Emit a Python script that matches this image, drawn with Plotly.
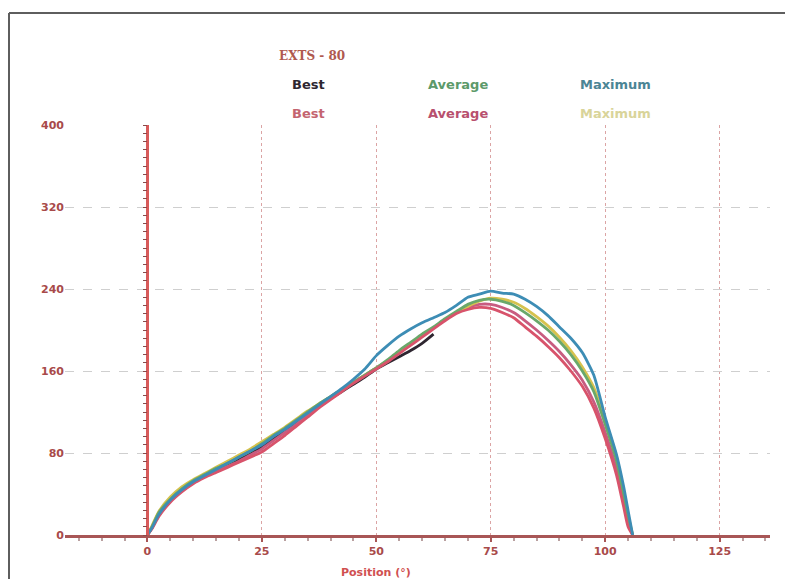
import plotly.graph_objects as go

# ---------------- data ----------------
x_pos = [0, 1, 2.5, 5, 7.5, 10, 12.5, 15, 17.5, 20, 22.5, 25, 27.5, 30, 32.5, 35, 37.5,
         40, 42.5, 45, 47.5, 50, 52.5, 55, 57.5, 60, 62.5, 65, 67.5, 70, 72.5, 75, 77.5,
         80, 82.5, 85, 87.5, 90, 92.5, 95, 97.5, 100, 102.5, 104, 105, 106]

best_1 = [0, 7, 20, 34, 44, 51, 57, 63, 68, 74, 80, 86, 94, 102, 110, 118, 126,
          133, 140, 147, 154, 162, 168, 174, 180, 187, 196] + [None] * 19

average_1 = [0, 8, 22, 35, 45, 53, 59, 65, 70, 76, 82, 89, 97, 104, 112, 120, 128,
             135, 142, 149, 156, 163, 171, 180, 188, 196, 203, 211, 218, 225, 229, 230, 228,
             224, 217, 209, 200, 189, 176, 160, 140, 108, 72, 40, 17, 0]

maximum_1 = [0, 7, 20, 34, 44, 52, 58, 64, 70, 76, 82, 88, 96, 103, 111, 119, 127,
             135, 143, 152, 162, 175, 185, 194, 201, 207, 212, 217, 224, 232, 235, 238, 236,
             235, 230, 223, 214, 203, 192, 178, 156, 115, 78, 48, 24, 0]

best_2 = [0, 6, 18, 32, 42, 50, 56, 61, 66, 71, 76, 81, 89, 97, 106, 115, 124,
          132, 140, 148, 155, 162, 169, 177, 185, 193, 201, 209, 216, 220, 222, 221, 217,
          212, 203, 194, 184, 173, 160, 145, 124, 94, 58, 28, 8, 0]

average_2 = [0, 7, 19, 33, 43, 51, 57, 62, 67, 72, 78, 84, 92, 100, 108, 117, 125,
             133, 141, 149, 156, 163, 170, 178, 186, 194, 202, 210, 217, 222, 225, 225, 222,
             217, 209, 200, 190, 179, 166, 151, 130, 100, 64, 34, 12, 0]

maximum_2 = [0, 9, 23, 37, 47, 54, 60, 66, 72, 78, 84, 91, 98, 105, 113, 121, 128,
             135, 142, 149, 156, 163, 170, 178, 186, 194, 202, 210, 217, 223, 228, 231, 230,
             227, 221, 213, 204, 193, 180, 164, 144, 112, 76, 44, 20, 0]

x_ticks = [0, 25, 50, 75, 100, 125]
y_ticks = [0, 80, 160, 240, 320, 400]

title_text = "EXTS - 80"
legend_row1 = ["Best", "Average", "Maximum"]
legend_row2 = ["Best", "Average", "Maximum"]

# ---------------- styles ----------------
c_best1, c_avg1, c_max1 = "#2e2630", "#6aa86a", "#3d8db5"
c_best2, c_avg2, c_max2 = "#d8536b", "#c85c80", "#d6c24e"
axis_red = "#a85656"
label_red = "#a84a4a"

W, H = 777, 571          # page has an 8px body margin on every side
ML, MR, MT, MB = 57, 15, 117, 44
OFF = 8

fig = go.Figure()

series = [
    (best_1, c_best1), (average_2, c_avg2), (maximum_2, c_max2),
    (average_1, c_avg1), (best_2, c_best2), (maximum_1, c_max1),
]
for ys, col in series:
    fig.add_trace(go.Scatter(x=x_pos, y=ys, mode="lines",
                             line=dict(color=col, width=2.8, shape="spline", smoothing=0.6),
                             showlegend=False, hoverinfo="skip", connectgaps=False))

# invisible trace to carry the secondary y-axis at x = 0
fig.add_trace(go.Scatter(x=[0], y=[0], yaxis="y2", mode="markers",
                         marker=dict(opacity=0), showlegend=False, hoverinfo="skip"))

xmin, xmax = -18, 136
fig.update_layout(
    width=W, height=H,
    paper_bgcolor="white", plot_bgcolor="white",
    margin=dict(l=ML, r=MR, t=MT, b=MB),
    xaxis=dict(range=[xmin, xmax], tickvals=x_ticks, ticktext=[str(v) for v in x_ticks],
               showgrid=True, gridcolor="#dba4a4", griddash="dot", gridwidth=1.3,
               zeroline=False, showline=True, linecolor=axis_red, linewidth=3,
               ticks="outside", ticklen=4, tickcolor=axis_red, tickwidth=2,
               minor=dict(dtick=5, ticks="outside", ticklen=3, tickcolor="#b9a0a0", showgrid=False),
               tickfont=dict(family="DejaVu Sans", size=11, color=label_red, weight="bold")),
    yaxis=dict(range=[0, 400], tickvals=y_ticks, ticktext=[str(v) for v in y_ticks],
               showgrid=True, gridcolor="#cfcfcf", griddash="dash", gridwidth=1,
               zeroline=False, showline=False, ticks="",
               tickfont=dict(family="DejaVu Sans", size=11, color=label_red, weight="bold")),
    yaxis2=dict(range=[0, 400], overlaying="y", anchor="free",
                position=(0 - xmin) / (xmax - xmin), side="left",
                showline=True, linecolor="#d85a5a", linewidth=2.5,
                ticks="outside", ticklen=4, tickcolor="#8a4a4a", dtick=8,
                showticklabels=False, showgrid=False, zeroline=False),
)


def px_x(p):
    """screen pixel -> paper x"""
    return (p - OFF - ML) / (W - ML - MR)


def px_y(p):
    """screen pixel -> paper y"""
    return (H - MB - (p - OFF)) / (H - MT - MB)


# axis title
fig.add_annotation(x=50, y=px_y(572), xref="x", yref="paper", text="Position (°)",
                   showarrow=False, yanchor="middle",
                   font=dict(family="DejaVu Sans", size=11, color="#d05050", weight="bold"))

# legend drawn as coloured text
fig.add_annotation(x=px_x(312), y=px_y(47), xref="paper", yref="paper", text=title_text,
                   showarrow=False, font=dict(family="DejaVu Serif", size=12, color="#b05a50", weight="bold"))
row_x = [290, 458, 653]
row1_cols = [c_best1, "#5c9a6a", "#4c8595"]
row2_cols = ["#c46470", "#b8506e", "#d9d49a"]
for i in range(3):
    fig.add_annotation(x=px_x(row_x[i]), y=px_y(75), xref="paper", yref="paper",
                       text=legend_row1[i], showarrow=False,
                       font=dict(family="DejaVu Sans", size=13, color=row1_cols[i], weight="bold"))
    fig.add_annotation(x=px_x(row_x[i]), y=px_y(104), xref="paper", yref="paper",
                       text=legend_row2[i], showarrow=False,
                       font=dict(family="DejaVu Sans", size=13, color=row2_cols[i], weight="bold"))

# frame lines (top and left)
fig.add_shape(type="line", xref="paper", yref="paper",
              x0=px_x(9), x1=px_x(785), y0=px_y(13), y1=px_y(13),
              line=dict(color="#5e5e5e", width=2))
fig.add_shape(type="line", xref="paper", yref="paper",
              x0=px_x(9), x1=px_x(9), y0=px_y(13), y1=px_y(579),
              line=dict(color="#5e5e5e", width=2))

fig.write_html("out.html")
